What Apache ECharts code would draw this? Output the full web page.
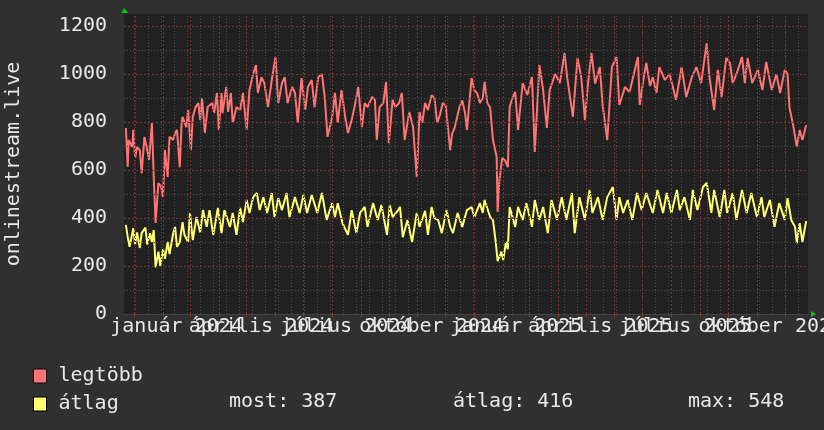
<!DOCTYPE html>
<html><head><meta charset="utf-8">
<script src="https://cdn.jsdelivr.net/npm/echarts@6/dist/echarts.min.js"></script>
<style>html,body{margin:0;padding:0;background:#303030}#c{width:824px;height:430px}</style>
</head><body><div id="c"></div>
<script>
// day offsets relative to 2024-01-01
const redDays = [-9,-7,-6,-2,-1,1,3,6,8,11,14,16,19,21,23,26,29,31,33,36,38,42,44,46,49,51,52,56,58,61,63,66,69,71,73,76,79,84,86,89,91,94,95,99,101,104,106,110,114,117,121,124,128,131,133,137,140,144,148,152,155,159,162,165,170,173,176,180,184,187,191,194,198,202,205,208,213,216,219,223,227,230,234,237,241,245,248,251,256,259,261,264,268,271,274,278,281,285,288,291,296,300,304,307,310,313,316,320,323,326,329,332,335,337,340,342,345,350,353,356,358,363,366,369,372,375,377,380,383,386,390,391,393,396,399,402,404,407,410,413,418,423,428,431,436,440,444,447,453,458,463,466,472,477,481,485,488,492,496,501,504,509,514,519,522,528,533,537,542,544,548,551,555,558,562,565,571,576,580,583,589,594,600,605,610,616,619,624,628,632,637,641,644,649,654,657,660,665,671,676,680,686,691,695,700,703,705,709,713,716,719,723];
const redVals = [775,614,725,696,767,650,696,683,587,738,683,642,796,571,379,546,529,487,683,571,738,725,754,767,612,796,821,779,850,683,821,862,879,808,900,754,862,879,837,921,767,921,837,946,842,921,796,862,850,921,767,933,1000,1037,921,987,962,862,975,1071,879,962,987,879,946,921,796,983,850,946,975,862,987,1000,904,738,821,921,796,933,821,754,808,862,946,779,879,862,904,892,725,862,879,967,712,892,862,879,921,725,842,780,571,842,796,880,850,912,900,796,830,879,870,800,683,750,779,862,890,837,767,983,933,920,879,900,967,879,860,725,654,425,560,650,640,612,862,900,925,767,962,912,987,675,1037,933,775,933,1000,962,1087,983,821,1067,987,808,950,1087,960,1029,871,725,1029,1071,871,946,925,990,1071,871,980,1046,950,987,921,1029,975,1000,940,892,1029,904,987,1029,962,1129,987,850,1017,904,1067,1046,962,1010,1071,962,1067,962,1017,933,1050,933,1000,921,1017,1000,862,787,696,767,725,787];
const yelDays = [-9,-7,-5,-1,1,3,6,8,12,14,17,19,21,23,26,28,31,33,36,38,42,44,46,49,52,54,58,60,63,67,71,74,78,81,85,87,90,94,97,103,106,110,114,117,121,124,128,132,135,139,143,148,151,155,159,164,167,173,178,182,186,191,197,202,207,213,216,219,224,230,234,239,243,248,251,257,262,266,272,275,278,284,286,289,294,299,304,307,313,316,320,323,327,331,336,340,343,348,353,358,363,366,372,375,377,383,386,389,391,395,397,400,402,404,410,413,418,422,428,431,436,440,445,449,455,460,465,471,474,479,485,490,493,499,504,509,515,519,522,526,531,536,541,546,551,558,563,569,573,578,584,587,592,598,601,606,612,616,621,624,630,635,638,644,648,654,659,664,670,675,678,684,689,694,700,703,707,711,713,716,719,723];
const yelVals = [371,321,280,358,290,340,275,337,360,290,337,300,350,195,260,200,270,230,300,250,337,363,280,300,383,330,300,421,308,404,340,433,363,433,330,371,442,337,433,363,421,330,442,383,475,421,487,504,433,487,421,504,404,483,433,504,404,487,421,496,421,496,421,504,392,462,404,462,379,330,433,337,421,446,363,462,392,454,330,454,404,433,446,320,392,300,421,363,430,330,446,400,392,337,433,363,337,421,363,433,446,404,462,421,475,404,392,300,220,260,225,300,270,446,363,446,392,462,363,475,392,446,337,475,392,487,392,504,337,487,392,517,421,487,392,487,529,392,487,421,475,392,504,433,504,421,517,421,504,421,517,433,487,392,517,433,529,546,421,517,404,517,421,504,392,517,421,504,404,487,404,475,363,462,392,483,392,363,295,379,300,387];
const seriesNames = ['legtöbb', 'átlag'];
const quarterStarts = ['2024-01-01','2024-04-01','2024-07-01','2024-10-01','2025-01-01','2025-04-01','2025-07-01','2025-10-01','2026-01-01'];
const xTickLabels = ['január 2024','április 2024','július 2024','október 2024','január 2025','április 2025','július 2025','október 2025'];
const yTicks = [0, 200, 400, 600, 800, 1000, 1200];
const yMinorTicks = [100, 300, 500, 700, 900, 1100];
const statLabels = ['most: 387', 'átlag: 416', 'max: 548'];

const DAY0 = Date.parse('2024-01-01T00:00:00Z');
function dayOf(s) { return (Date.parse(s + 'T00:00:00Z') - DAY0) / 86400000; }
const X_MIN = -11, X_MAX = 725;
const labelPos = [];
for (let i = 0; i < xTickLabels.length; i++) labelPos.push((dayOf(quarterStarts[i]) + dayOf(quarterStarts[i + 1])) / 2);
const monthStarts = [];
for (const y of [2024, 2025]) for (let m = 1; m <= 12; m++) {
  const d = dayOf(y + '-' + String(m).padStart(2, '0') + '-01');
  if (d >= X_MIN && d <= X_MAX) monthStarts.push(d);
}
const biweekly = [];
for (let d = 1; d <= X_MAX; d += 14) biweekly.push(d);

const FONT = 'DejaVu Sans Mono';
const TXT = '#e8e8e8';
const RED = '#ff7474';
const YEL = '#ffff74';
const GRID_RED = '#7a3434';
const GRID_GREY = '#4e4e4e';

const chart = echarts.init(document.getElementById('c'), null, {renderer: 'canvas'});
chart.setOption({
  backgroundColor: '#303030',
  animation: false,
  textStyle: {fontFamily: FONT},
  grid: {left: 124, right: 16, top: 14, bottom: 116, show: true, backgroundColor: '#212121', borderWidth: 0,
    containLabel: false, outerBoundsMode: 'none'},
  legend: {
    data: seriesNames, orient: 'vertical', left: 28, top: 361, itemWidth: 13, itemHeight: 14, itemGap: 8,
    selectedMode: false, icon: 'rect',
    itemStyle: {borderColor: '#000', borderWidth: 1},
    textStyle: {color: TXT, fontSize: 20, fontFamily: FONT, lineHeight: 20, padding: [0, 0, 0, 7]}
  },
  xAxis: {
    type: 'value', min: X_MIN, max: X_MAX,
    axisLine: {show: true, lineStyle: {color: '#444', width: 1}},
    axisTick: {show: true, customValues: monthStarts, length: 3, lineStyle: {color: '#8a3a3a'}},
    splitLine: {show: false},
    axisLabel: {
      customValues: [X_MIN].concat(labelPos, [X_MAX]),
      color: TXT, fontSize: 20, fontFamily: FONT, margin: 3, hideOverlap: false,
      alignMinLabel: 'center', alignMaxLabel: 'center',
      formatter: function (v) {
        const i = labelPos.findIndex(p => Math.abs(p - v) < 0.01);
        return i >= 0 ? xTickLabels[i] : '';
      }
    }
  },
  yAxis: {
    type: 'value', min: 0, max: 1250,
    name: 'onlinestream.live', nameLocation: 'middle', nameGap: 100, nameRotate: 90,
    nameTextStyle: {color: TXT, fontSize: 20, fontFamily: FONT},
    axisLine: {show: false}, axisTick: {show: false, customValues: yTicks},
    axisLabel: {customValues: yTicks, color: TXT, fontSize: 20, fontFamily: FONT, margin: 17,
      formatter: v => String(v)},
    splitLine: {show: false},
    minorSplitLine: {show: false}
  },
  series: [
    {
      type: 'line', name: '_grid', data: [], z: 1, silent: true,
      markLine: {
        silent: true, symbol: ['none', 'none'], label: {show: false}, animation: false,
        lineStyle: {type: [2, 2], width: 1},
        data: biweekly.map(d => ({xAxis: d, lineStyle: {color: GRID_GREY, type: [1, 2]}}))
          .concat(yMinorTicks.map(v => ({yAxis: v, lineStyle: {color: GRID_GREY, type: [1, 2]}})))
          .concat(monthStarts.map(d => ({xAxis: d, lineStyle: {color: GRID_RED, type: [2, 2]}})))
          .concat(yTicks.filter(v => v > 0).map(v => ({yAxis: v, lineStyle: {color: GRID_RED, type: [2, 2]}})))
      }
    },
    {
      type: 'line', name: seriesNames[0], z: 3, showSymbol: false, symbol: 'none',
      color: RED, lineStyle: {color: RED, width: 2},
      data: redDays.map((d, i) => [d, redVals[i]])
    },
    {
      type: 'line', name: seriesNames[1], z: 3, showSymbol: false, symbol: 'none',
      color: YEL, lineStyle: {color: YEL, width: 2},
      data: yelDays.map((d, i) => [d, yelVals[i]])
    }
  ],
  graphic: [
    {type: 'polygon', shape: {points: [[121, 13], [128, 13], [124.5, 8]]}, style: {fill: '#00c800'}, z: 100},
    {type: 'polygon', shape: {points: [[811, 311], [811, 317], [816, 314]]}, style: {fill: '#00c800'}, z: 100},
    {type: 'text', x: 229, y: 402, style: {text: statLabels[0], fill: TXT, font: '20px "DejaVu Sans Mono"', verticalAlign: 'middle'}},
    {type: 'text', x: 453, y: 402, style: {text: statLabels[1], fill: TXT, font: '20px "DejaVu Sans Mono"', verticalAlign: 'middle'}},
    {type: 'text', x: 688, y: 402, style: {text: statLabels[2], fill: TXT, font: '20px "DejaVu Sans Mono"', verticalAlign: 'middle'}}
  ]
});
</script></body></html>
